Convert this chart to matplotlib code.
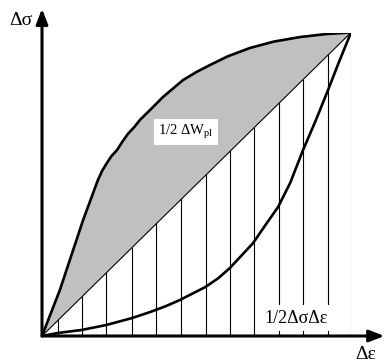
import matplotlib
matplotlib.use('Agg')
import matplotlib.pyplot as plt
import numpy as np

plt.rcParams['font.family'] = ['Liberation Serif', 'DejaVu Serif']
plt.rcParams['mathtext.fontset'] = 'custom'
plt.rcParams['mathtext.rm'] = 'Liberation Serif'
plt.rcParams['mathtext.it'] = 'Liberation Serif:italic'

# loading branch (upper curve), strain / stress normalised to the range
upper_eps = [0, 0.058, 0.133, 0.181, 0.195, 0.210, 0.225, 0.243, 0.260, 0.278, 0.300,
             0.317, 0.350, 0.392, 0.420, 0.456, 0.500, 0.544, 0.600, 0.673, 0.750,
             0.835, 0.920, 1.0]
upper_sig = [0, 0.152, 0.382, 0.514, 0.545, 0.570, 0.593, 0.613, 0.640, 0.666, 0.690,
             0.712, 0.745, 0.788, 0.812, 0.843, 0.870, 0.893, 0.921, 0.949, 0.970,
             0.985, 0.995, 1.0]

# unloading branch (lower curve)
lower_eps = [0, 0.052, 0.129, 0.207, 0.291, 0.350, 0.400, 0.447, 0.528, 0.570, 0.608,
             0.641, 0.683, 0.722, 0.764, 0.803, 0.845, 0.885, 0.922, 0.960, 1.0]
lower_sig = [0, 0.010, 0.020, 0.036, 0.059, 0.079, 0.098, 0.119, 0.161, 0.190, 0.224,
             0.260, 0.306, 0.364, 0.425, 0.504, 0.613, 0.708, 0.801, 0.900, 1.0]

# hatch lines under the elastic triangle
hatch_eps = [0.052, 0.129, 0.207, 0.291, 0.369, 0.450, 0.531, 0.608, 0.686, 0.767,
             0.845, 0.926, 1.0]

label_wpl = r'1/2 ΔW$_{\mathrm{pl}}$'
label_tri = '1/2ΔσΔε'

W, H = 385, 362
fig = plt.figure(figsize=(W / 100, H / 100), dpi=100)
ax = fig.add_axes([42 / W, 26 / H, 309 / W, 303.5 / H])
ax.set_xlim(0, 1)
ax.set_ylim(0, 1)
ax.axis('off')

# shaded area between loading branch and the diagonal
ue = np.array(upper_eps)
us = np.array(upper_sig)
ax.fill(np.r_[ue, ue[::-1]], np.r_[us, ue[::-1]], color='#c0c0c0', lw=0, zorder=1)

for e in hatch_eps:
    ax.plot([e, e], [0, e], color='black', lw=0.8, zorder=2)
ax.plot([0, 1], [0, 1], color='black', lw=0.8, zorder=2)

ax.plot(upper_eps, upper_sig, color='black', lw=1.9, zorder=3,
        solid_capstyle='round', solid_joinstyle='round')
ax.plot(lower_eps, lower_sig, color='black', lw=1.9, zorder=3,
        solid_capstyle='round', solid_joinstyle='round')

# axes with arrows
arrow = dict(arrowstyle='-|>,head_length=0.9,head_width=0.35', color='black', lw=2.2,
             shrinkA=0, shrinkB=0)
ax.annotate('', xy=(1.108, 0), xytext=(0, 0), arrowprops=arrow,
            annotation_clip=False, zorder=4)
ax.annotate('', xy=(0, 1.078), xytext=(0, 0), arrowprops=arrow,
            annotation_clip=False, zorder=4)

ax.text(-0.03, 1.04, 'Δσ', fontsize=14, ha='right', va='center', clip_on=False)
ax.text(1.049, -0.062, 'Δε', fontsize=14, ha='center', va='center', clip_on=False)

box = dict(facecolor='white', edgecolor='none', pad=3)
ax.text(0.466, 0.672, label_wpl, fontsize=10.5, ha='center', va='center',
        bbox=box, zorder=5)
ax.text(0.822, 0.059, label_tri, fontsize=13, ha='center', va='center',
        bbox=box, zorder=5)

fig.savefig('out.png', dpi=100)
